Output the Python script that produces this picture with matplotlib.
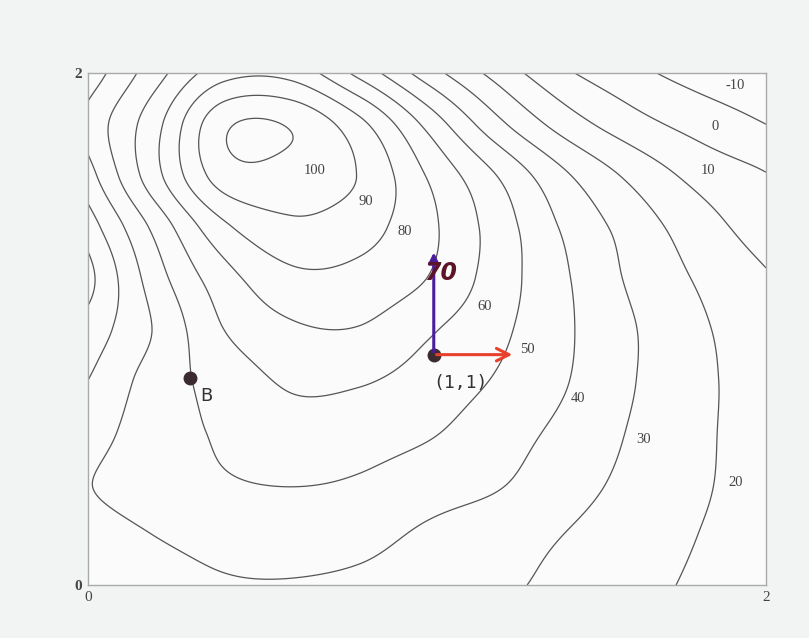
import numpy as np
import matplotlib.pyplot as plt

x_vals = [0.0, 0.2, 0.4, 0.6, 0.8, 1.0, 1.2, 1.4, 1.6, 1.8, 2.0]
y_vals = [0.0, 0.2, 0.4, 0.6, 0.8, 1.0, 1.2, 1.4, 1.6, 1.8, 2.0]

# one row per y value, bottom (y=0) to top (y=2)
z_y00 = [35, 37.5, 39.3, 39.4, 38, 35, 32, 27.6, 23.1, 18.6, 15]
z_y02 = [37, 40.2, 42.5, 44, 43, 38.6, 34.6, 30.1, 25.2, 20, 15]
z_y04 = [39.7, 44.4, 49, 50.5, 49, 44.8, 41.2, 34.3, 27.7, 21.5, 15]
z_y06 = [36, 45, 51.5, 56, 54.5, 51.2, 44.8, 37.8, 29.4, 22, 15]
z_y08 = [30, 44.5, 54, 61.5, 61, 56, 49.4, 41, 30.8, 22.3, 15]
z_y10 = [24, 41, 60, 68.5, 69.5, 61.5, 52.8, 42, 31, 21.6, 14]
z_y12 = [17, 45.6, 66, 77.5, 77, 70, 55.7, 41.6, 28.6, 19, 11]
z_y14 = [25, 53, 78, 88, 84, 72.6, 56, 39, 26, 14.5, 5]
z_y16 = [36, 67, 95, 96, 89.5, 69.5, 50.5, 32, 18, 7, 0.5]
z_y18 = [43, 67, 98, 99, 83, 57.5, 33.6, 16, 4.3, -3.6, -10]
z_y20 = [34, 56, 76, 76.4, 57, 35, 17, 2, -7, -14, -18]

levels = [-10, 0, 10, 20, 30, 40, 50, 60, 70, 80, 90, 100]

# level labels as printed beside the curves
label_text = ['100', '90', '80', '60', '50', '40', '30', '20', '10', '0', '-10']
label_x = [0.67, 0.82, 0.935, 1.17, 1.295, 1.445, 1.64, 1.91, 1.83, 1.85, 1.91]
label_y = [1.62, 1.50, 1.38, 1.09, 0.92, 0.73, 0.57, 0.40, 1.62, 1.79, 1.95]

point_a = (1.02, 0.90)
point_b = (0.30, 0.81)
up_tip = 1.31
right_tip = 1.26


def spline_weights(nodes, fine):
    # Catmull-Rom weights, used only to draw smooth curves through the grid
    nodes = np.asarray(nodes)
    n = len(nodes)
    h = nodes[1] - nodes[0]
    W = np.zeros((len(fine), n))
    for i, f in enumerate(fine):
        t = (f - nodes[0]) / h
        k = min(int(np.floor(t)), n - 2)
        s = t - k
        w = [(-s**3 + 2*s**2 - s) / 2, (3*s**3 - 5*s**2 + 2) / 2,
             (-3*s**3 + 4*s**2 + s) / 2, (s**3 - s**2) / 2]
        for wj, idx in zip(w, [k - 1, k, k + 1, k + 2]):
            if idx < 0:
                W[i, 0] += 2 * wj
                W[i, 1] -= wj
            elif idx > n - 1:
                W[i, n - 1] += 2 * wj
                W[i, n - 2] -= wj
            else:
                W[i, idx] += wj
    return W


Z = np.array([z_y00, z_y02, z_y04, z_y06, z_y08, z_y10,
              z_y12, z_y14, z_y16, z_y18, z_y20], dtype=float)
xf = np.linspace(0, 2, 301)
yf = np.linspace(0, 2, 301)
Zf = spline_weights(y_vals, yf) @ Z @ spline_weights(x_vals, xf).T

fig = plt.figure(figsize=(8.09, 6.38), dpi=100, facecolor='#f2f3f3')
ax = fig.add_axes([0.1088, 0.083, 0.838, 0.8025])
ax.set_facecolor('#fbfbfb')

ax.contour(xf, yf, Zf, levels=levels, colors='#555555', linewidths=0.9,
           linestyles='solid')

for t, lx, ly in zip(label_text, label_x, label_y):
    ax.text(lx, ly, t, fontsize=10.5, family='Liberation Serif', color='#444444',
            ha='center', va='center')

# hand drawn marks
ax.annotate('', xy=(point_a[0], up_tip), xytext=point_a,
            arrowprops=dict(arrowstyle='-|>,head_length=0.6,head_width=0.3',
                            color='#4b1c9c', lw=2.2))
ax.annotate('', xy=(right_tip, point_a[1]), xytext=point_a,
            arrowprops=dict(arrowstyle='->,head_length=0.9,head_width=0.45',
                            color='#e8402d', lw=2.2))
ax.plot([point_a[0], point_b[0]], [point_a[1], point_b[1]], 'o', ls='none',
        color='#3b2b30', ms=9)
ax.text(1.04, 1.22, '70', fontsize=17, fontweight='bold', color='#5c1526',
        ha='center', va='center', style='italic')
ax.text(point_a[0] + 0.08, point_a[1] - 0.11, '(1,1)', fontsize=13,
        family='DejaVu Sans Mono', color='#333333', ha='center', va='center')
ax.text(point_b[0] + 0.05, point_b[1] - 0.07, 'B', fontsize=13,
        color='#333333', ha='center', va='center')

ax.set_xlim(0, 2)
ax.set_ylim(0, 2)
ax.set_xticks([0, 2])
ax.set_yticks([0, 2])
ax.set_xticklabels(['0', '2'], family='Liberation Serif', fontsize=11, color='#444444')
ax.set_yticklabels(['0', '2'], family='Liberation Serif', fontsize=11,
                   fontweight='bold', color='#444444')
ax.tick_params(length=0, pad=4)
for s in ax.spines.values():
    s.set_color('#aaaaaa')
    s.set_linewidth(1.0)

fig.savefig('out.png', dpi=100, facecolor=fig.get_facecolor())
